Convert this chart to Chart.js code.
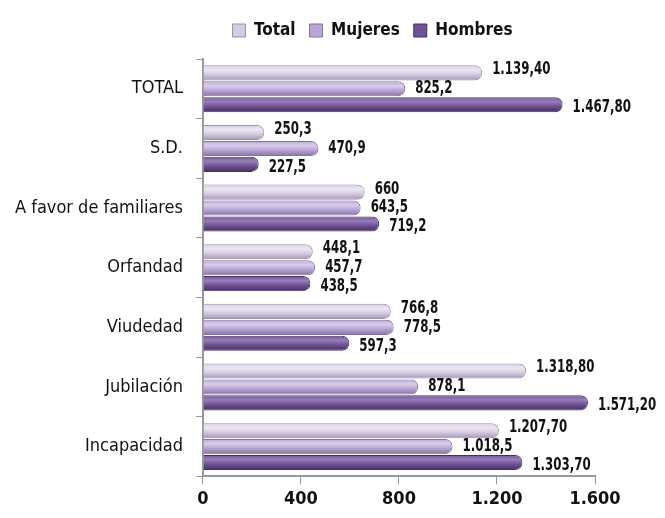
<!DOCTYPE html>
<html>
<head>
<meta charset="utf-8">
<script src="https://cdn.jsdelivr.net/npm/chart.js@4/dist/chart.umd.min.js"></script>
<style>
  html, body { margin: 0; padding: 0; background: #fff; }
  #wrap { width: 665px; height: 518px; }
</style>
</head>
<body>
<div id="wrap"><canvas id="chart"></canvas></div>
<script>
const categories=["TOTAL","S.D.","A favor de familiares","Orfandad","Viudedad","Jubilación","Incapacidad"];
const totalValues=[1139.4,250.3,660,448.1,766.8,1318.8,1207.7];
const mujeresValues=[825.2,470.9,643.5,457.7,778.5,878.1,1018.5];
const hombresValues=[1467.8,227.5,719.2,438.5,597.3,1571.2,1303.7];
const totalLabels=["1.139,40","250,3","660","448,1","766,8","1.318,80","1.207,70"];
const mujeresLabels=["825,2","470,9","643,5","457,7","778,5","878,1","1.018,5"];
const hombresLabels=["1.467,80","227,5","719,2","438,5","597,3","1.571,20","1.303,70"];
const xTicks=[0,400,800,1200,1600];

const FONT="'DejaVu Sans Condensed', 'DejaVu Sans', sans-serif";

// colores del cilindro: claro arriba, medio, oscuro abajo
const shades=[
    ["#ece6f3","#d6cce2","#a396b3"],
    ["#d9cdec","#b9a6d6","#85739f"],
    ["#9a7dbb","#6f5393","#45305f"],
];

// degradado vertical para cada barra
const barGradient={
    id: "barGradient",
    beforeDatasetsDraw(chart) {
        const ctx=chart.ctx;
        chart.data.datasets.forEach((ds,i)=>{
            chart.getDatasetMeta(i).data.forEach((bar)=>{
                const h=bar.height/2;
                const g=ctx.createLinearGradient(0,bar.y-h,0,bar.y+h);
                g.addColorStop(0,shades[i][1]);
                g.addColorStop(0.3,shades[i][0]);
                g.addColorStop(0.6,shades[i][1]);
                g.addColorStop(1,shades[i][2]);
                bar.options.backgroundColor=g;
            });
        });
    },
};

// etiquetas de valor al final de cada barra
const valueLabels={
    id: "valueLabels",
    afterDatasetsDraw(chart) {
        const ctx=chart.ctx;
        ctx.save();
        ctx.font="bold 16px "+FONT;
        ctx.fillStyle="#111";
        ctx.textBaseline="middle";
        chart.data.datasets.forEach((ds,i)=>{
            chart.getDatasetMeta(i).data.forEach((bar,j)=>{
                ctx.save();
                ctx.translate(bar.x+10,bar.y+(i-1)*3);
                ctx.scale(0.82,1.05);
                ctx.fillText(ds.valueText[j],0,0);
                ctx.restore();
            });
        });
        ctx.restore();
    },
};

// espacio bajo la leyenda y leyenda algo a la derecha
const legendGap={
    id: "legendGap",
    beforeInit(chart) {
        const fit=chart.legend.fit;
        chart.legend.fit=function() {
            fit.bind(chart.legend)();
            this.height+=10;
        };
    },
    afterLayout(chart) {
        chart.legend.left+=74;
        chart.legend.right+=74;
    },
};

const ctx=document.getElementById("chart").getContext("2d");
new Chart(ctx,{
    type: "bar",
    data: {
        labels: categories,
        datasets: [{
            label: "Total",
            data: totalValues,
            valueText: totalLabels,
            backgroundColor: (c)=>shades[0][1],
            borderColor: "#9d90ad",
            borderWidth: 1,
            borderRadius: 7,
            borderSkipped: "start",
        },{
            label: "Mujeres",
            data: mujeresValues,
            valueText: mujeresLabels,
            backgroundColor: (c)=>shades[1][1],
            borderColor: "#85739f",
            borderWidth: 1,
            borderRadius: 7,
            borderSkipped: "start",
        },{
            label: "Hombres",
            data: hombresValues,
            valueText: hombresLabels,
            backgroundColor: (c)=>shades[2][1],
            borderColor: "#45305f",
            borderWidth: 1,
            borderRadius: 7,
            borderSkipped: "start",
        }],
    },
    options: {
        indexAxis: "y",
        responsive: true,
        maintainAspectRatio: false,
        animation: false,
        categoryPercentage: 0.8,
        barPercentage: 0.95,
        layout: {
            padding: {top: 8, right: 70, bottom: 4, left: 2},
        },
        scales: {
            x: {
                min: 0,
                max: 1600,
                afterBuildTicks: (axis)=>{ axis.ticks=xTicks.map(v=>({value: v})); },
                border: {color: "#999", width: 2},
                grid: {drawOnChartArea: false, color: "#999", tickLength: 8},
                ticks: {
                    color: "#111",
                    padding: 4,
                    font: {family: FONT, size: 18, weight: "bold"},
                    callback: (v)=>v.toLocaleString("es-ES",{useGrouping: true}).replace(/\s/g,"."),
                },
            },
            y: {
                border: {color: "#999", width: 2},
                grid: {drawOnChartArea: false, offset: true, color: "#999", tickLength: 7},
                ticks: {
                    color: "#111",
                    padding: 13,
                    font: {family: FONT, size: 18},
                },
            },
        },
        plugins: {
            legend: {
                position: "top",
                labels: {
                    color: "#111",
                    boxWidth: 13,
                    boxHeight: 13,
                    padding: 14,
                    font: {family: FONT, size: 17, weight: "bold"},
                },
            },
            tooltip: {enabled: false},
        },
    },
    plugins: [barGradient,valueLabels,legendGap],
});
</script>
</body>
</html>
